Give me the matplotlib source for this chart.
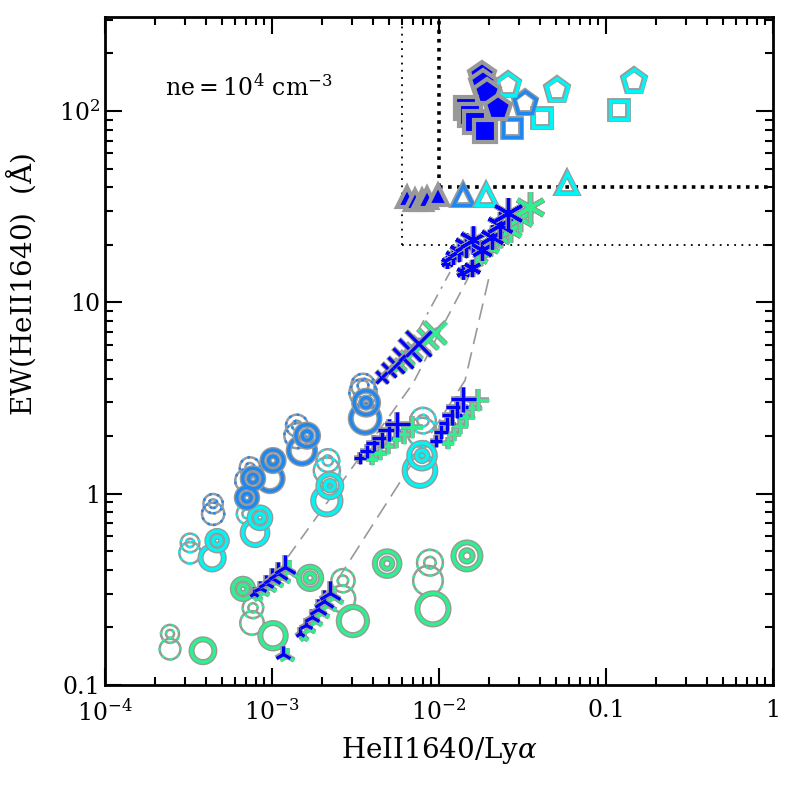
import numpy as np
import matplotlib.pyplot as plt
from matplotlib.ticker import LogLocator, NullFormatter, FixedLocator, FixedFormatter

plt.rcParams['font.family'] = ['DejaVu Serif']
plt.rcParams['mathtext.fontset'] = 'dejavuserif'

# ---------------- datos ----------------
# simbolos llenos azules (borde gris), parte superior
sq_fill_x = [0.0145, 0.0154, 0.0164, 0.0188]
sq_fill_y = [104, 95, 88, 79]
pent_fill_x = [0.0181, 0.0183, 0.0194, 0.0225]
pent_fill_y = [154, 140, 126, 104]
tri_fill_x = [0.00643, 0.00718, 0.00791, 0.00847, 0.00986]
tri_fill_y = [35.5, 34.2, 34.2, 35.1, 36.3]

# simbolos abiertos
sq_mid_x, sq_mid_y = [0.0273], [81.5]
sq_cyan_x, sq_cyan_y = [0.0414, 0.1197], [92, 101]
pent_mid_x, pent_mid_y = [0.0327], [110]
pent_cyan_x, pent_cyan_y = [0.0259, 0.0509, 0.147], [137, 129, 143]
tri_mid_x, tri_mid_y = [0.0139], [36.3]
tri_cyan_x, tri_cyan_y = [0.0191, 0.0583], [36.3, 42]

# circulos: bull = anillo doble, plain = anillo simple, dot = punteado
mid_bull_x = [7.08e-4, 7.69e-4, 1.014e-3, 1.62e-3, 3.66e-3]
mid_bull_y = [0.953, 1.20, 1.49, 2.01, 2.99]
mid_plain_x = [9.73e-4, 1.51e-3, 3.61e-3]
mid_plain_y = [1.20, 1.68, 2.47]
mid_dotbull_x = [4.44e-4, 7.38e-4, 1.41e-3, 3.51e-3]
mid_dotbull_y = [0.887, 1.37, 2.27, 3.67]
mid_dotplain_x = [4.44e-4, 7.08e-4, 1.41e-3, 3.51e-3]
mid_dotplain_y = [0.785, 1.17, 2.01, 3.38]

cyan_bull_x = [4.69e-4, 8.47e-4, 2.22e-3, 7.91e-3]
cyan_bull_y = [0.568, 0.748, 1.10, 1.58]
cyan_plain_x = [4.38e-4, 7.91e-4, 2.13e-3, 7.69e-3]
cyan_plain_y = [0.462, 0.625, 0.918, 1.32]
cyan_dotbull_x = [3.23e-4, 7.08e-4, 2.16e-3, 8.02e-3]
cyan_dotbull_y = [0.553, 0.785, 1.49, 2.41]
cyan_dotplain_x = [3.23e-4, 2.13e-3, 7.91e-3]
cyan_dotplain_y = [0.491, 1.32, 2.09]

green_bull_x = [6.70e-4, 1.69e-3, 4.89e-3, 1.47e-2]
green_bull_y = [0.318, 0.363, 0.431, 0.473]
green_plain_x = [3.86e-4, 1.014e-3, 3.05e-3, 9.20e-3]
green_plain_y = [0.151, 0.181, 0.216, 0.250]
green_dotbull_x = [2.45e-4, 7.69e-4, 2.66e-3, 8.83e-3]
green_dotbull_y = [0.185, 0.253, 0.351, 0.436]
green_dotplain_x = [2.45e-4, 7.59e-4, 2.62e-3, 8.59e-3]
green_dotplain_y = [0.154, 0.211, 0.282, 0.351]

# cadenas de modelos (azul y verde)
a1_blue_x = [0.01117, 0.01214, 0.01318, 0.01452, 0.01600]
a1_blue_y = [16.2, 17.4, 18.5, 19.9, 21.1]
a2_blue_x = [0.01394, 0.01578, 0.01807, 0.02075, 0.02317, 0.02588]
a2_blue_y = [14.4, 15.1, 18.7, 21.9, 25.3, 29.2]
a_green_x = [0.01578, 0.01762, 0.02018, 0.02317, 0.02661, 0.03055, 0.03508]
a_green_y = [15.1, 17.0, 19.4, 21.9, 23.8, 27.5, 31.4]

b_blue_x = [4.56e-3, 5.02e-3, 5.53e-3, 6.08e-3, 6.70e-3, 7.48e-3]
b_blue_y = [4.05, 4.41, 4.73, 5.15, 5.61, 6.10]
b_green_x = [5.83e-3, 6.42e-3, 7.08e-3, 7.80e-3, 8.59e-3, 9.46e-3]
b_green_y = [4.68, 5.09, 5.54, 5.96, 6.40, 6.88]

c_blue_x = [3.37e-3, 3.71e-3, 4.08e-3, 4.56e-3, 5.02e-3, 5.61e-3]
c_blue_y = [1.54, 1.68, 1.83, 1.96, 2.14, 2.32]
c_green_x = [3.97e-3, 4.44e-3, 4.96e-3, 5.53e-3, 6.17e-3, 6.89e-3]
c_green_y = [1.52, 1.64, 1.78, 1.92, 2.06, 2.22]

d_blue_x = [9.59e-3, 1.028e-2, 1.117e-2, 1.197e-2, 1.282e-2, 1.394e-2]
d_blue_y = [1.89, 2.11, 2.35, 2.59, 2.85, 3.14]
d_green_x = [1.132e-2, 1.230e-2, 1.337e-2, 1.452e-2, 1.578e-2, 1.714e-2]
d_green_y = [1.83, 2.04, 2.27, 2.53, 2.79, 3.07]

e1_blue_x = [7.80e-4, 8.47e-4, 9.20e-4, 1.0e-3, 1.086e-3, 1.197e-3]
e1_blue_y = [0.303, 0.322, 0.342, 0.363, 0.386, 0.415]
e1_green_x = [8.24e-4, 8.95e-4, 9.73e-4, 1.057e-3, 1.148e-3, 1.265e-3]
e1_green_y = [0.289, 0.307, 0.326, 0.346, 0.367, 0.395]
e2_blue_x = [1.472e-3, 1.600e-3, 1.738e-3, 1.884e-3, 2.047e-3, 2.22e-3]
e2_blue_y = [0.187, 0.206, 0.227, 0.250, 0.275, 0.303]
e2_green_x = [1.556e-3, 1.69e-3, 1.832e-3, 1.991e-3, 2.16e-3, 2.35e-3]
e2_green_y = [0.178, 0.196, 0.216, 0.238, 0.262, 0.289]
lone_blue_x, lone_blue_y = [1.164e-3], [0.145]
lone_green_x, lone_green_y = [1.230e-3], [0.142]

# curvas grises que unen las secuencias
curva1_x = [0.00475, 0.00769, 0.01164]
curva1_y = [3.91, 7.39, 14.4]
curva2_x = [0.001247, 0.00698, 0.01042, 0.01493]
curva2_y = [0.468, 3.77, 7.39, 13.4]
curva3_x = [0.00245, 0.01432, 0.0202]
curva3_y = [0.351, 3.91, 14.2]

# limites de seleccion (lineas punteadas)
x_lim_fino, ew_lim_fino = 0.006, 20
x_lim_grueso, ew_lim_grueso = 0.01, 40

# ---------------- estilo ----------------
azul = '#0000ff'
medio = '#1e88f0'
cian = '#00f5f5'
verde = '#2ef08c'
gris = '#999999'

fig = plt.figure(figsize=(7.89, 7.89), dpi=100)
ax = fig.add_axes([0.1331, 0.1318, 0.8466, 0.8466])
ax.set_xscale('log')
ax.set_yscale('log')
ax.set_xlim(1e-4, 1)
ax.set_ylim(0.1, 310)


def diam(x, k=1.0):
    return k * (13 + 3.6 * (np.log10(np.asarray(x)) + 3.6))


def anillo(x, y, color, k=1.0, punteado=False, z=3):
    s = diam(x, k) ** 2
    if punteado:
        ax.scatter(x, y, s=s, facecolors='none', edgecolors=gris, linewidths=1.8, zorder=z)
        ax.scatter(x, y, s=s, facecolors='none', edgecolors=color, linewidths=1.8,
                   linestyles=(0, (1.0, 2.2)), zorder=z)
    else:
        ax.scatter(x, y, s=s, facecolors='none', edgecolors=gris, linewidths=4.4, zorder=z)
        ax.scatter(x, y, s=s, facecolors='none', edgecolors=color, linewidths=2.4, zorder=z)


def circulos(bx, by, px, py, dbx, dby, dpx, dpy, color):
    anillo(dpx, dpy, color, 1.15, punteado=True)
    anillo(dbx, dby, color, 1.0, punteado=True)
    anillo(dbx, dby, color, 0.45, punteado=True)
    anillo(px, py, color, 1.2)
    anillo(bx, by, color, 1.0)
    anillo(bx, by, color, 0.42)


circulos(green_bull_x, green_bull_y, green_plain_x, green_plain_y,
         green_dotbull_x, green_dotbull_y, green_dotplain_x, green_dotplain_y, verde)
circulos(cyan_bull_x, cyan_bull_y, cyan_plain_x, cyan_plain_y,
         cyan_dotbull_x, cyan_dotbull_y, cyan_dotplain_x, cyan_dotplain_y, cian)
circulos(mid_bull_x, mid_bull_y, mid_plain_x, mid_plain_y,
         mid_dotbull_x, mid_dotbull_y, mid_dotplain_x, mid_dotplain_y, medio)

# curvas grises
ax.plot(curva1_x, curva1_y, color=gris, lw=1.2, dashes=(8, 4, 1.5, 4), zorder=2)
ax.plot(curva2_x, curva2_y, color=gris, lw=1.2, dashes=(8, 5), zorder=2)
ax.plot(curva3_x, curva3_y, color=gris, lw=1.2, dashes=(10, 5), zorder=2)


def cadena(x, y, marker, color, ms0=8, ms1=20, z=5):
    sizes = np.linspace(ms0, ms1, len(x))
    for xi, yi, ms in zip(x, y, sizes):
        ax.plot(xi, yi, marker=marker, ms=ms, mec=gris, mew=4.0, ls='none', zorder=z)
        ax.plot(xi, yi, marker=marker, ms=ms, mec=color, mew=2.3, ls='none', zorder=z)


aster = (6, 2, 0)
cadena(a_green_x, a_green_y, aster, verde, 9, 22)
cadena(a1_blue_x, a1_blue_y, aster, azul, 9, 20)
cadena(a2_blue_x, a2_blue_y, aster, azul, 10, 22)
cadena(b_green_x, b_green_y, 'x', verde, 8, 16)
cadena(b_blue_x, b_blue_y, 'x', azul, 8, 18)
cadena(c_green_x, c_green_y, '+', verde, 8, 16)
cadena(c_blue_x, c_blue_y, '+', azul, 8, 18)
cadena(d_green_x, d_green_y, '+', verde, 8, 16)
cadena(d_blue_x, d_blue_y, '+', azul, 8, 18)
cadena(e1_green_x, e1_green_y, '2', verde, 8, 16)
cadena(e1_blue_x, e1_blue_y, '2', azul, 8, 18)
cadena(e2_green_x, e2_green_y, '2', verde, 8, 16)
cadena(e2_blue_x, e2_blue_y, '2', azul, 8, 18)
cadena(lone_green_x, lone_green_y, '2', verde, 12, 12)
cadena(lone_blue_x, lone_blue_y, '2', azul, 12, 12)


def abierto(x, y, marker, color, ms):
    ax.plot(x, y, marker=marker, ms=ms, mfc='none', mec=gris, mew=4.2, ls='none', zorder=4)
    ax.plot(x, y, marker=marker, ms=ms, mfc='none', mec=color, mew=2.4, ls='none', zorder=4)


abierto(sq_mid_x, sq_mid_y, 's', medio, 13)
abierto(sq_cyan_x, sq_cyan_y, 's', cian, 13)
abierto(pent_mid_x, pent_mid_y, 'p', medio, 17)
abierto(pent_cyan_x, pent_cyan_y, 'p', cian, 17)
abierto(tri_mid_x, tri_mid_y, '^', medio, 14)
abierto(tri_cyan_x, tri_cyan_y, '^', cian, 14)

for xi, yi in zip(tri_fill_x, tri_fill_y):
    ax.plot(xi, yi, marker='^', ms=15, mfc=azul, mec=gris, mew=3, ls='none', zorder=4)
for xi, yi in zip(pent_fill_x, pent_fill_y):
    ax.plot(xi, yi, marker='p', ms=19, mfc=azul, mec=gris, mew=3, ls='none', zorder=4)
for xi, yi in zip(sq_fill_x, sq_fill_y):
    ax.plot(xi, yi, marker='s', ms=16, mfc=azul, mec=gris, mew=3, ls='none', zorder=4)

# lineas punteadas de seleccion
ax.plot([x_lim_fino, x_lim_fino], [ew_lim_fino, 1000], color='k', lw=1.3, ls=(0, (1, 3)), zorder=1)
ax.plot([x_lim_fino, 10], [ew_lim_fino, ew_lim_fino], color='k', lw=1.3, ls=(0, (1, 3)), zorder=1)
ax.plot([x_lim_grueso, x_lim_grueso], [ew_lim_grueso, 1000], color='k', lw=2.6, ls=(0, (1, 1.5)), zorder=1)
ax.plot([x_lim_grueso, 10], [ew_lim_grueso, ew_lim_grueso], color='k', lw=2.6, ls=(0, (1, 1.5)), zorder=1)

ax.text(0.09, 0.895, r'ne$=$10$^4$ cm$^{-3}$', transform=ax.transAxes,
        fontsize=17, va='center', ha='left')

# ejes
ax.xaxis.set_major_locator(FixedLocator([1e-4, 1e-3, 1e-2, 0.1, 1]))
ax.xaxis.set_major_formatter(FixedFormatter([r'10$^{-4}$', r'10$^{-3}$', r'10$^{-2}$', '0.1', '1']))
ax.yaxis.set_major_locator(FixedLocator([0.1, 1, 10, 100]))
ax.yaxis.set_major_formatter(FixedFormatter(['0.1', '1', '10', r'10$^2$']))
ax.xaxis.set_minor_locator(LogLocator(base=10, subs=np.arange(2, 10)))
ax.yaxis.set_minor_locator(LogLocator(base=10, subs=np.arange(2, 10)))
ax.xaxis.set_minor_formatter(NullFormatter())
ax.yaxis.set_minor_formatter(NullFormatter())
ax.tick_params(which='both', direction='in', top=True, right=True, width=1.5, labelsize=17)
ax.tick_params(axis='x', which='major', pad=10)
ax.tick_params(which='major', length=12)
ax.tick_params(which='minor', length=6)
for sp in ax.spines.values():
    sp.set_linewidth(2)

ax.set_xlabel(r'HeII1640/Ly$\alpha$', fontsize=20)
ax.set_ylabel(r'EW(HeII1640)  ($\rm\AA$)', fontsize=20)
ax.xaxis.set_label_coords(0.5, -0.075)
ax.yaxis.set_label_coords(-0.1, 0.6)

plt.savefig('out.png', dpi=100)
